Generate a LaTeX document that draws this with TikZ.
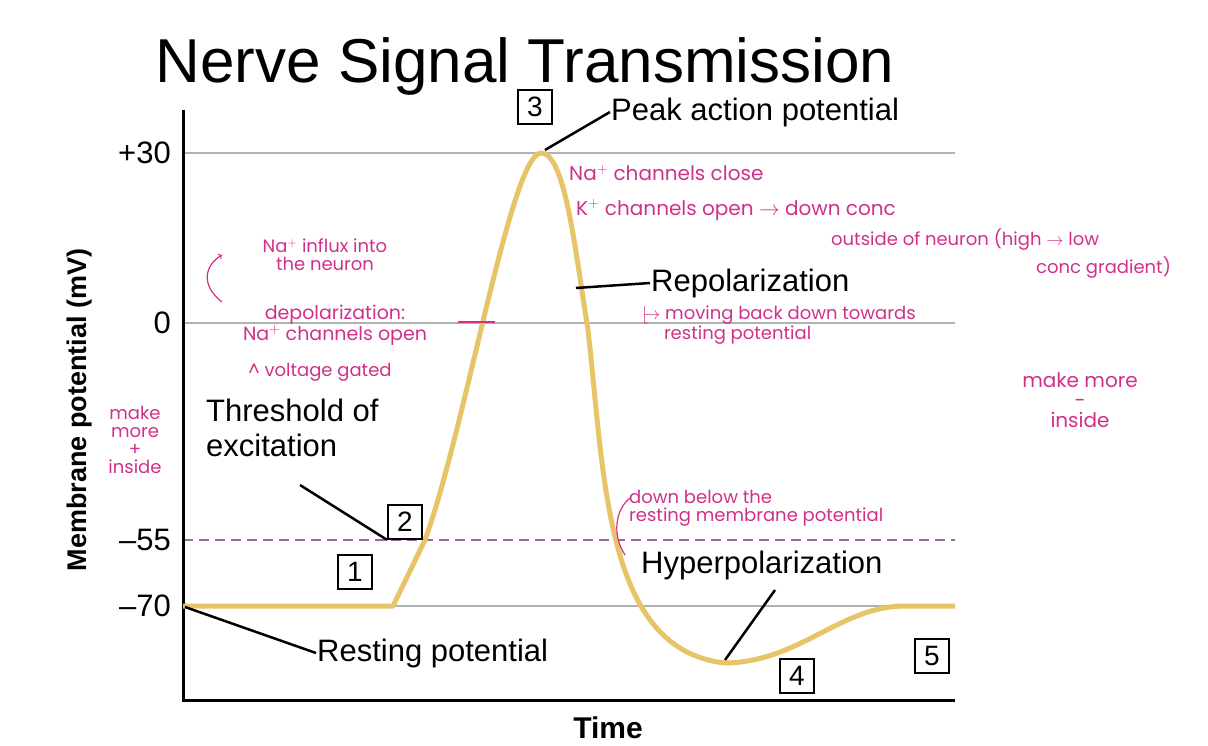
\documentclass[tikz,border=0pt]{standalone}
\usepackage{fontspec}
\setmainfont{Liberation Sans}
\newfontfamily\hand{Poppins}
\usetikzlibrary{positioning}
\definecolor{curvec}{HTML}{E8C468}
\definecolor{pinkc}{HTML}{D0308A}
\definecolor{dashc}{HTML}{9A6A9A}
\tikzset{lbl/.style={font=\fontsize{31}{35}\selectfont, inner sep=1pt}}
\tikzset{num/.style={draw, line width=1.8pt, fill=white, minimum size=34pt, inner sep=0pt, font=\fontsize{28}{30}\selectfont}}
\tikzset{note/.style={text=pinkc, font=\hand\fontsize{18}{18}\selectfont, align=center, inner sep=1pt}}
\tikzset{grid/.style={gray!60, line width=1.2pt}}
\begin{document}
\begin{tikzpicture}[x=1pt,y=-1pt]
        \useasboundingbox (0,0) rectangle (1208,746);

        % axes and levels
        \draw[grid] (183,153) -- (955,153);
        \draw[grid] (183,323) -- (955,323);
        \draw[grid] (183,606) -- (955,606);
        \draw[dashc, dash pattern=on 10pt off 6pt, line width=2pt] (183,540) -- (955,540);
        \draw[line width=3pt] (183,110) -- (183,700) -- (955,700);

        \node[lbl, anchor=east] (p30) at (172,153) {+30};
        \node[lbl, anchor=east] (z0) at (172,323) {0};
        \node[lbl, anchor=east] (m55) at (172,540) {--55};
        \node[lbl, anchor=east] (m70) at (172,606) {--70};
        \node[lbl, rotate=90, font=\bfseries\fontsize{27}{29}\selectfont] (ylab) at (80,410) {Membrane potential (mV)};
        \node[lbl, font=\bfseries\fontsize{30}{32}\selectfont] (xlab) at (608,728) {Time};
        \node[font=\fontsize{62}{66}\selectfont] (title) at (525,66) {Nerve Signal Transmission};

        % action potential curve
        \draw[curvec, line width=5pt, line join=round]
          (183,606) -- (393,606) -- (425,540)
          .. controls (465,430) and (510,160) .. (540,153)
          .. controls (565,150) and (575,250) .. (588,330)
          .. controls (605,480) and (605,650) .. (725,663)
          .. controls (800,662) and (840,606) .. (905,606) -- (955,606);

        % numbered boxes
        \node[num] (b3) at (535,107) {3};
        \node[num] (b2) at (405,522) {2};
        \node[num] (b1) at (355,572) {1};
        \node[num] (b4) at (797,676) {4};
        \node[num] (b5) at (932,656) {5};

        % labels with leaders
        \node[lbl, anchor=west] (peak) at (610,112) {Peak action potential};
        \coordinate (peakpt) at (545,150);
        \draw[line width=2.5pt] (peakpt) -- (peak.west);
        \node[lbl, anchor=west] (repol) at (650,283) {Repolarization};
        \coordinate (repolpt) at (576,288);
        \draw[line width=2.5pt] (repolpt) -- (repol.west);
        \node[lbl, anchor=west, align=left] (thr) at (205,428) {Threshold of\\excitation};
        \draw[line width=2.5pt] (300,485) -- (b2.south west);
        \node[lbl, anchor=west] (hyper) at (640,565) {Hyperpolarization};
        \coordinate (hyperpt) at (725,660);
        \draw[line width=2.5pt] (775,590) -- (hyperpt);
        \node[lbl, anchor=west] (rest) at (316,653) {Resting potential};
        \coordinate (restpt) at (185,607);
        \draw[line width=2.5pt] (restpt) -- (rest.west);

        % handwritten notes
        \node[note] (influx) at (325,255) {Na$^+$ influx into\\the neuron};
        \node[note, font=\hand\fontsize{19}{21}\selectfont] (depol) at (335,325) {depolarization:\\Na$^+$ channels open};
        \coordinate (depolend) at (495,322);
        \draw[pinkc, line width=1.2pt] (458,322) -- (depolend);
        \draw[pinkc, line width=1.2pt, ->] (222,302) .. controls (200,285) and (205,265) .. (222,255);
        \node[note] (gated) at (320,372) {\^{} voltage gated};
        \node[note] (moreplus) at (135,440) {make\\more\\+\\inside};
        \node[note, font=\hand\fontsize{20}{20}\selectfont, anchor=west] (naclose) at (568,173) {Na$^+$ channels close};
        \node[note, font=\hand\fontsize{20}{20}\selectfont, anchor=west] (kopen) at (575,210) {K$^+$ channels open $\rightarrow$ down conc};
        \node[note, anchor=west] (outside) at (830,240) {outside of neuron (high $\rightarrow$ low};
        \node[note, anchor=west] (grad) at (1035,268) {conc gradient)};
        \node[note, align=left, anchor=west] (moving) at (640,325) {$\lfloor\!\!\rightarrow$ moving back down towards\\\quad\ resting potential};
        \node[note, font=\hand\fontsize{20}{20}\selectfont] (moreminus) at (1080,400) {make more\\-\\inside};
        \node[note, align=left, anchor=west] (below) at (628,508) {down below the\\resting membrane potential};
        \draw[pinkc, line width=1.2pt] (630,498) .. controls (615,510) and (612,535) .. (625,555);
\end{tikzpicture}
\end{document}
